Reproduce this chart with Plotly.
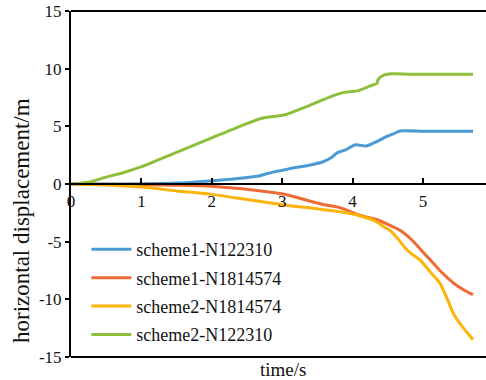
import plotly.graph_objects as go

# ---- data ----
t_s1_n122310 = [0, 0.5, 1.0, 1.5, 1.83, 2.2, 2.4, 2.68, 2.87, 3.0, 3.15, 3.4, 3.58, 3.7, 3.78, 3.9, 4.04, 4.2, 4.35, 4.48, 4.6, 4.67, 5.0, 5.4, 5.71]
v_s1_n122310 = [0, 0, 0.02, 0.08, 0.2, 0.38, 0.5, 0.72, 1.03, 1.18, 1.38, 1.65, 1.93, 2.3, 2.7, 2.95, 3.4, 3.3, 3.7, 4.1, 4.4, 4.6, 4.58, 4.58, 4.58]

t_s1_n1814574 = [0, 0.5, 1.0, 1.5, 1.83, 2.0, 2.4, 2.7, 3.0, 3.2, 3.4, 3.6, 3.82, 4.1, 4.35, 4.5, 4.67, 4.85, 5.0, 5.12, 5.24, 5.36, 5.48, 5.6, 5.71]
v_s1_n1814574 = [0, -0.02, -0.06, -0.1, -0.15, -0.2, -0.4, -0.6, -0.85, -1.15, -1.5, -1.8, -2.05, -2.7, -3.1, -3.5, -4.0, -4.9, -5.9, -6.7, -7.5, -8.2, -8.8, -9.25, -9.6]

t_s2_n1814574 = [0, 0.5, 1.0, 1.5, 2.0, 2.5, 3.0, 3.5, 3.82, 4.1, 4.35, 4.45, 4.53, 4.65, 4.77, 4.87, 4.96, 5.1, 5.24, 5.34, 5.43, 5.55, 5.63, 5.71]
v_s2_n1814574 = [0, -0.08, -0.27, -0.6, -0.9, -1.35, -1.8, -2.15, -2.4, -2.75, -3.3, -3.75, -4.0, -4.8, -5.7, -6.2, -6.6, -7.6, -8.6, -9.9, -11.2, -12.3, -12.9, -13.5]

t_s2_n122310 = [0, 0.25, 0.5, 0.75, 1.0, 1.5, 2.0, 2.4, 2.71, 3.04, 3.3, 3.7, 3.85, 4.08, 4.25, 4.35, 4.36, 4.43, 4.56, 4.8, 5.2, 5.71]
v_s2_n122310 = [0, 0.15, 0.6, 1.0, 1.5, 2.75, 4.0, 5.0, 5.7, 6.0, 6.6, 7.6, 7.9, 8.1, 8.5, 8.75, 9.05, 9.4, 9.55, 9.52, 9.52, 9.52]

names = ["scheme1-N122310", "scheme1-N1814574", "scheme2-N1814574", "scheme2-N122310"]
colors = ["#4A9AD4", "#EE6B35", "#FDB309", "#8DBE3C"]
xs = [t_s1_n122310, t_s1_n1814574, t_s2_n1814574, t_s2_n122310]
ys = [v_s1_n122310, v_s1_n1814574, v_s2_n1814574, v_s2_n122310]

x_tickvals = [0, 1, 2, 3, 4, 5]
y_tickvals = [-15, -10, -5, 0, 5, 10, 15]
y_ticktext = ["-15", "-10", "-5", "0", "5", "10", "15"]

FONT = "Liberation Serif, Times New Roman, serif"

fig = go.Figure()
for i, (name, c, x, y) in enumerate(zip(names, colors, xs, ys)):
    fig.add_trace(go.Scatter(x=x, y=y, mode="lines", name=name, legendgroup=f"g{i}",
                             line=dict(color=c, width=3, shape="spline", smoothing=0.6)))

fig.update_layout(
    width=486, height=380,
    margin=dict(l=71, r=0, t=11, b=23),
    paper_bgcolor="white", plot_bgcolor="white",
    font=dict(family=FONT, size=17, color="#111111"),
    showlegend=True,
    legend=dict(x=0.037, y=0.364, xanchor="left", yanchor="top",
                bgcolor="rgba(0,0,0,0)", font=dict(size=18),
                itemwidth=40, traceorder="grouped", tracegroupgap=2),
    xaxis=dict(range=[0, 5.895], tickvals=x_tickvals,
               showgrid=False, zeroline=False,
               showline=True, linecolor="black", linewidth=2,
               ticks="inside", ticklen=5, tickwidth=1.5, tickcolor="black",
               anchor="free", position=0.5, ticklabelstandoff=2),
    yaxis=dict(range=[-15, 15], tickvals=y_tickvals, ticktext=y_ticktext,
               showgrid=False, zeroline=False,
               showline=True, linecolor="black", linewidth=2,
               ticks="outside", ticklen=4, tickwidth=1.5, tickcolor="black"),
    shapes=[
        dict(type="line", xref="paper", yref="paper", x0=0, x1=1, y0=1, y1=1,
             line=dict(color="black", width=2)),
        dict(type="line", xref="paper", yref="paper", x0=0, x1=1, y0=0, y1=0,
             line=dict(color="black", width=2)),
    ],
    annotations=[
        dict(text="horizontal displacement/m", xref="paper", yref="paper",
             x=(21 - 71) / 415, y=(357 - 221) / 346, showarrow=False,
             textangle=-90, font=dict(size=23), xanchor="center", yanchor="middle"),
        dict(text="time/s", xref="paper", yref="paper",
             x=(282.5 - 71) / 415, y=(357 - 369) / 346, showarrow=False,
             font=dict(size=19), xanchor="center", yanchor="middle"),
    ],
)

fig.write_html("out.html")
